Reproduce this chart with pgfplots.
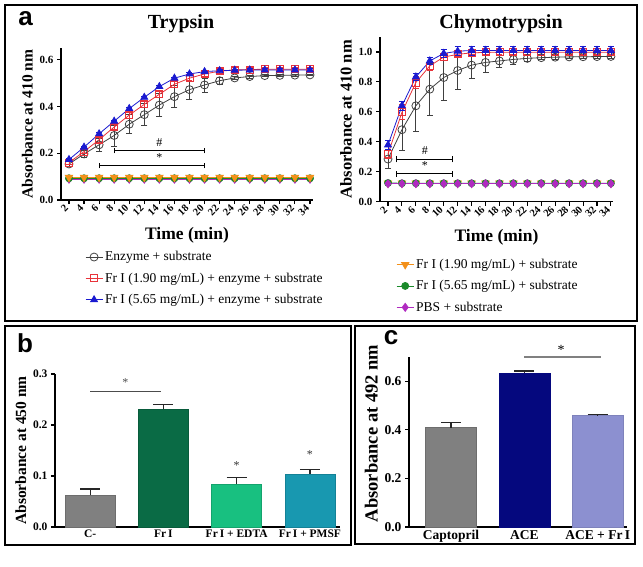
\documentclass[border=0pt]{standalone}
\usepackage{pgfplots}
\pgfplotsset{compat=1.18}
\usepackage{pgfplotstable}
\usepackage{fontspec}
\setmainfont{Liberation Serif}
\newfontfamily\sansfont{Liberation Sans}

\definecolor{sgray}{HTML}{404040}
\definecolor{sred}{HTML}{E8333A}
\definecolor{sblue}{HTML}{1A1AD0}
\definecolor{sorange}{HTML}{F39019}
\definecolor{sgreen}{HTML}{1A8A2A}
\definecolor{spurple}{HTML}{B02AC0}
\definecolor{bgray}{HTML}{808080}
\definecolor{bdgreen}{HTML}{0A6B45}
\definecolor{blgreen}{HTML}{18C080}
\definecolor{bteal}{HTML}{1898B0}
\definecolor{bnavy}{HTML}{05087E}
\definecolor{blav}{HTML}{8C90D0}

\pgfplotstableread{
x  bk    bke    rd    rde    bl    ble
2  0.154 0.010  0.160 0.008  0.173 0.005
4  0.197 0.015  0.207 0.008  0.226 0.005
6  0.236 0.028  0.258 0.010  0.283 0.005
8  0.276 0.045  0.312 0.012  0.337 0.005
10 0.324 0.040  0.363 0.012  0.391 0.005
12 0.365 0.046  0.409 0.012  0.439 0.005
14 0.406 0.048  0.452 0.012  0.485 0.005
16 0.442 0.046  0.495 0.012  0.521 0.005
18 0.472 0.040  0.521 0.010  0.539 0.005
20 0.492 0.030  0.539 0.010  0.549 0.005
22 0.510 0.016  0.551 0.010  0.553 0.005
24 0.522 0.008  0.556 0.010  0.555 0.005
26 0.528 0.006  0.558 0.010  0.556 0.005
28 0.532 0.005  0.559 0.010  0.556 0.005
30 0.533 0.004  0.559 0.010  0.556 0.005
32 0.534 0.004  0.559 0.010  0.556 0.005
34 0.535 0.004  0.559 0.010  0.556 0.005
}\tryp

\pgfplotstableread{
x  bk    bke    rd    rde    bl    ble
2  0.284 0.066  0.318 0.030  0.378 0.030
4  0.480 0.140  0.596 0.050  0.640 0.030
6  0.640 0.173  0.796 0.040  0.833 0.025
8  0.751 0.173  0.907 0.030  0.940 0.025
10 0.829 0.150  0.966 0.020  0.990 0.025
12 0.876 0.125  0.984 0.015  1.005 0.030
14 0.912 0.090  0.994 0.012  1.010 0.030
16 0.930 0.065  0.997 0.012  1.010 0.030
18 0.940 0.045  0.998 0.012  1.010 0.030
20 0.950 0.030  0.998 0.012  1.010 0.030
22 0.957 0.020  0.998 0.012  1.010 0.030
24 0.962 0.015  0.998 0.012  1.010 0.030
26 0.965 0.012  0.998 0.012  1.010 0.030
28 0.967 0.010  0.998 0.012  1.010 0.030
30 0.968 0.010  0.998 0.012  1.010 0.030
32 0.969 0.010  0.998 0.012  1.010 0.030
34 0.970 0.010  0.998 0.012  1.010 0.030
}\chymo

\pgfplotstableread{
x  or    gr    pu
2  0.097 0.093 0.089
4  0.097 0.093 0.089
6  0.097 0.093 0.089
8  0.097 0.093 0.089
10 0.097 0.093 0.089
12 0.097 0.093 0.089
14 0.097 0.093 0.089
16 0.097 0.093 0.089
18 0.097 0.093 0.089
20 0.097 0.093 0.089
22 0.097 0.093 0.089
24 0.097 0.093 0.089
26 0.097 0.093 0.089
28 0.097 0.093 0.089
30 0.097 0.093 0.089
32 0.097 0.093 0.089
34 0.097 0.093 0.089
}\trypflat

\pgfplotstableread{
x  or    gr    pu
2  0.123 0.124 0.119
4  0.123 0.122 0.119
6  0.123 0.122 0.119
8  0.123 0.122 0.119
10 0.123 0.122 0.119
12 0.123 0.122 0.119
14 0.123 0.122 0.119
16 0.123 0.122 0.119
18 0.123 0.122 0.119
20 0.123 0.122 0.119
22 0.123 0.122 0.119
24 0.123 0.122 0.119
26 0.123 0.122 0.119
28 0.123 0.122 0.119
30 0.123 0.122 0.119
32 0.123 0.122 0.119
34 0.123 0.122 0.119
}\chymoflat

\pgfplotsset{
  gp/.style={
    scale only axis, anchor=south west, clip=false,
    axis x line*=bottom, axis y line*=left,
    axis line style={line width=1.2pt,-},
    tick align=outside, major tick length=4pt,
    tick style={line width=1.1pt, black},
    /pgf/number format/assume math mode=true,
    yticklabel style={/pgf/number format/fixed, /pgf/number format/fixed zerofill, /pgf/number format/precision=1},
  },
  lineax/.style={gp,
    xtick={2,4,...,34},
    yticklabel style={font=\bfseries\fontsize{11}{11}\selectfont},
    xticklabel style={font=\bfseries\fontsize{10.5}{11}\selectfont, rotate=45, anchor=east},
    xlabel={Time (min)},
    xlabel style={font=\bfseries\fontsize{17.5}{19}\selectfont, yshift=-3pt},
    ylabel={Absorbance at 410 nm},
    legend style={draw=none, fill=none, inner sep=0pt, anchor=north west,
      font=\fontsize{13.5}{15}\selectfont, row sep=6.5pt},
    legend cell align=left,
  },
  eb/.style={error bars/y dir=both, error bars/y explicit,
    error bars/error bar style={line width=0.8pt},
    error bars/error mark options={rotate=90, mark size=3pt, line width=0.8pt}},
  sbk/.style={color=sgray, line width=0.8pt, mark=o, mark size=4pt, mark options={line width=0.8pt}},
  srd/.style={color=sred, line width=0.8pt, mark=square, mark size=3.5pt, mark options={line width=0.9pt}},
  sbl/.style={color=sblue, line width=0.8pt, mark=triangle*, mark size=4pt},
  sor/.style={color=sorange, line width=0.8pt, mark=triangle*, mark size=4.3pt, mark options={rotate=180}},
  sgr/.style={color=sgreen, line width=0.8pt, mark=*, mark size=3.5pt},
  spu/.style={color=spurple, line width=0.8pt, mark=diamond*, mark size=4pt},
  barax/.style={gp, major x tick style={draw=none}},
  bebar/.style={ybar, bar shift=0pt, error bars/y dir=plus, error bars/y explicit,
    error bars/error bar style={line width=1.3pt, color=black!85},
    error bars/error mark options={rotate=90, mark size=10pt, line width=1.3pt, color=black!85}},
}

\begin{document}
\begin{tikzpicture}[x=1pt,y=1pt]
\useasboundingbox (0,0) rectangle (643,-567);
\draw[line width=1.2pt] (5,-5) rectangle (637,-321);
\draw[line width=1.2pt] (5,-326) rectangle (351,-545);
\draw[line width=1.2pt] (355,-326) rectangle (635,-544);
\node[font=\sansfont\bfseries\fontsize{26}{28}\selectfont] at (25.5,-19) {a};
\node[font=\sansfont\bfseries\fontsize{26}{28}\selectfont] at (25,-343) {b};
\node[font=\sansfont\bfseries\fontsize{26}{28}\selectfont] at (391,-338) {c};
\node[font=\bfseries\fontsize{20}{22}\selectfont] at (181,-24) {Trypsin};
\node[font=\bfseries\fontsize{20}{22}\selectfont] at (501,-24) {Chymotrypsin};

% Trypsin
\begin{axis}[lineax, at={(61pt,-200pt)}, width=252pt, height=152pt,
  xmin=0.94, xmax=34.4, ymin=0, ymax=0.65, ytick={0,0.2,0.4,0.6},
  ylabel style={font=\bfseries\fontsize{15.5}{17}\selectfont},
  legend style={at={(0.095,-0.325)}}]
\addplot[sbk, eb] table[x=x, y=bk, y error=bke] {\tryp};
\addlegendentry{Enzyme + substrate}
\addplot[srd, eb] table[x=x, y=rd, y error=rde] {\tryp};
\addlegendentry{Fr I (1.90 mg/mL) + enzyme + substrate}
\addplot[sbl, eb] table[x=x, y=bl, y error=ble] {\tryp};
\addlegendentry{Fr I (5.65 mg/mL) + enzyme + substrate}
\addplot[spu, forget plot] table[x=x, y=pu] {\trypflat};
\addplot[sgr, forget plot] table[x=x, y=gr] {\trypflat};
\addplot[sor, forget plot] table[x=x, y=or] {\trypflat};
\draw[line width=1pt] (axis cs:8,0.211) -- (axis cs:20,0.211);
\draw[line width=1pt] (axis cs:8,0.199) -- (axis cs:8,0.223);
\draw[line width=1pt] (axis cs:20,0.199) -- (axis cs:20,0.223);
\node[font=\fontsize{12}{12}\selectfont, anchor=south] at (axis cs:14,0.215) {\#};
\draw[line width=1pt] (axis cs:6,0.147) -- (axis cs:20,0.147);
\draw[line width=1pt] (axis cs:6,0.135) -- (axis cs:6,0.159);
\draw[line width=1pt] (axis cs:20,0.135) -- (axis cs:20,0.159);
\node[font=\fontsize{12}{12}\selectfont, anchor=south] at (axis cs:14,0.149) {*};
\end{axis}

% Chymotrypsin
\begin{axis}[lineax, at={(380pt,-201.5pt)}, width=233pt, height=164.5pt,
  xmin=0.85, xmax=34.3, ymin=0, ymax=1.1, ytick={0,0.2,...,1.0},
  ylabel style={font=\bfseries\fontsize{16.5}{18}\selectfont},
  legend style={at={(0.069,-0.337)}}]
\addplot[sor] table[x=x, y=or] {\chymoflat};
\addlegendentry{Fr I (1.90 mg/mL) + substrate}
\addplot[sgr] table[x=x, y=gr] {\chymoflat};
\addlegendentry{Fr I (5.65 mg/mL) + substrate}
\addplot[spu] table[x=x, y=pu] {\chymoflat};
\addlegendentry{PBS + substrate}
\addplot[forget plot, sbk, eb] table[x=x, y=bk, y error=bke] {\chymo};
\addplot[forget plot, srd, eb] table[x=x, y=rd, y error=rde] {\chymo};
\addplot[forget plot, sbl, eb] table[x=x, y=bl, y error=ble] {\chymo};
\draw[line width=1pt] (axis cs:3.25,0.282) -- (axis cs:11.3,0.282);
\draw[line width=1pt] (axis cs:3.25,0.262) -- (axis cs:3.25,0.302);
\draw[line width=1pt] (axis cs:11.3,0.262) -- (axis cs:11.3,0.302);
\node[font=\fontsize{12}{12}\selectfont, anchor=south] at (axis cs:7.3,0.29) {\#};
\draw[line width=1pt] (axis cs:3.25,0.186) -- (axis cs:11.3,0.186);
\draw[line width=1pt] (axis cs:3.25,0.166) -- (axis cs:3.25,0.206);
\draw[line width=1pt] (axis cs:11.3,0.166) -- (axis cs:11.3,0.206);
\node[font=\fontsize{12}{12}\selectfont, anchor=south] at (axis cs:7.3,0.19) {*};
\end{axis}

% Panel b
\begin{axis}[barax, at={(55pt,-527pt)}, width=285pt, height=153pt,
  xmin=-0.48, xmax=3.41, ymin=0, ymax=0.3, ytick={0,0.1,0.2,0.3},
  xtick={0,1,2,3}, xticklabels={C-, Fr\,I, Fr\,I + EDTA, Fr\,I + PMSF},
  ticklabel style={font=\bfseries\fontsize{11.5}{12}\selectfont},
  xticklabel style={yshift=5pt},
  ylabel={Absorbance at 450 nm},
  ylabel style={font=\bfseries\fontsize{15.5}{17}\selectfont}]
\addplot[bebar, bar width=50pt, fill=bgray, draw=bgray!85!black] coordinates {(0,0.0627) +- (0,0.0118)};
\addplot[bebar, bar width=50pt, fill=bdgreen, draw=bdgreen!85!black] coordinates {(1,0.2307) +- (0,0.0099)};
\addplot[bebar, bar width=50pt, fill=blgreen, draw=blgreen!85!black] coordinates {(2,0.0843) +- (0,0.0124)};
\addplot[bebar, bar width=50pt, fill=bteal, draw=bteal!85!black] coordinates {(3,0.104) +- (0,0.009)};
\draw[line width=1pt, black!70] (axis cs:0,0.265) -- (axis cs:0.96,0.265);
\node[font=\fontsize{12}{12}\selectfont, black!70] at (axis cs:0.48,0.283) {*};
\node[font=\fontsize{12}{12}\selectfont, black!80] at (axis cs:2,0.121) {*};
\node[font=\fontsize{12}{12}\selectfont, black!80] at (axis cs:3,0.142) {*};
\end{axis}

% Panel c
\begin{axis}[barax, at={(409pt,-527pt)}, width=218pt, height=170pt,
  xmin=-0.574, xmax=2.40, ymin=0, ymax=0.7, ytick={0,0.2,0.4,0.6},
  xtick={0,1,2}, xticklabels={Captopril, ACE, ACE + Fr\,I},
  ticklabel style={font=\bfseries\fontsize{13.5}{14}\selectfont},
  xticklabel style={yshift=4pt},
  ylabel={Absorbance at 492 nm},
  ylabel style={font=\bfseries\fontsize{18.5}{20}\selectfont, at={(ticklabel cs:0.55)}}]
\addplot[bebar, bar width=51pt, fill=bgray, draw=bgray!85!black] coordinates {(0,0.409) +- (0,0.021)};
\addplot[bebar, bar width=51pt, fill=bnavy, draw=bnavy] coordinates {(1,0.635) +- (0,0.008)};
\addplot[bebar, bar width=51pt, fill=blav, draw=blav!90!black] coordinates {(2,0.459) +- (0,0.005)};
\draw[line width=1.3pt, black!50] (axis cs:1,0.70) -- (axis cs:2.04,0.70);
\node[font=\fontsize{14}{14}\selectfont] at (axis cs:1.5,0.73) {*};
\end{axis}
\end{tikzpicture}
\end{document}
